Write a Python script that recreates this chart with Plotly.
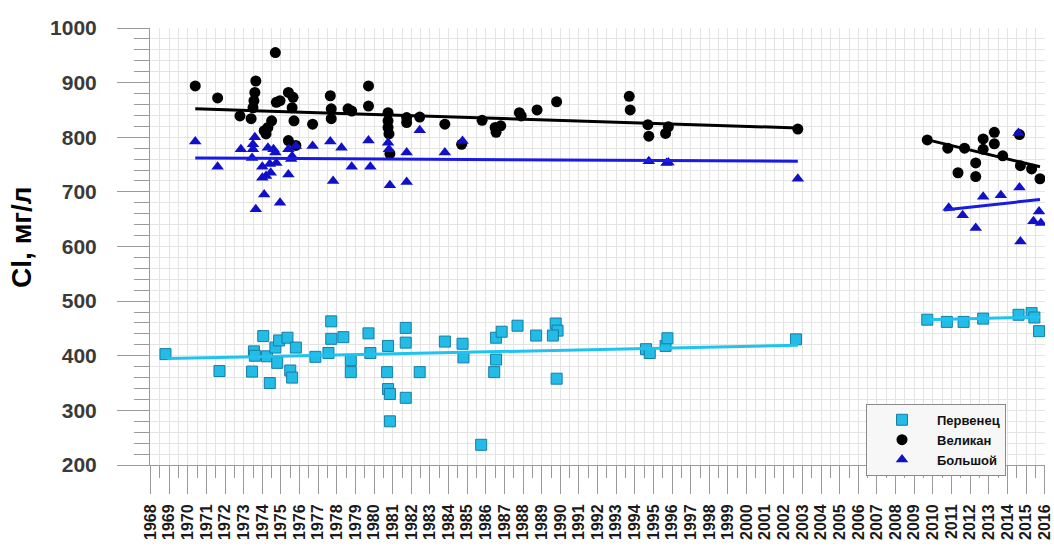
import plotly.graph_objects as go

# Великан — Cl, мг/л
velikan_year = [1970.4, 1971.6, 1972.8, 1973.4, 1973.5, 1973.55, 1973.6, 1973.65,
                1974.1, 1974.2, 1974.3, 1974.5, 1974.7, 1974.75, 1974.95, 1975.4,
                1975.4, 1975.6, 1975.65, 1975.7, 1975.8, 1976.7, 1977.65, 1977.7,
                1977.7, 1978.6, 1978.8, 1979.7, 1979.7, 1980.75, 1980.75, 1980.75,
                1980.8, 1980.85, 1981.75, 1981.75, 1982.45, 1983.8, 1984.7, 1985.8,
                1986.5, 1986.55, 1986.8, 1987.8, 1987.9, 1988.75, 1989.8, 1993.7,
                1993.75, 1994.7, 1994.75, 1995.65, 1995.8, 2002.75,
                2009.7, 2010.8, 2011.35, 2011.7, 2012.3, 2012.3, 2012.7, 2012.7,
                2013.3, 2013.3, 2013.75, 2014.65, 2014.7, 2015.3, 2015.75]
velikan_cl = [894, 872, 839, 834, 854, 867, 882, 903,
              812, 806, 818, 830, 955, 864, 867, 882,
              794, 854, 873, 830, 785, 824, 876, 852,
              834, 852, 848, 894, 857, 845, 830, 818,
              806, 770, 836, 827, 837, 824, 787, 831,
              818, 809, 821, 845, 839, 850, 865, 875,
              850, 823, 802, 807, 819, 815,
              795, 780, 735, 780, 753, 728, 797, 778,
              809, 788, 766, 805, 748, 742, 724]

# Большой — Cl, мг/л
bolshoy_year = [1970.4, 1971.6, 1972.85, 1973.6, 1973.5, 1973.5, 1973.45, 1973.65,
                1974.0, 1974.1, 1974.0, 1974.2, 1974.3, 1974.4, 1974.45, 1974.6,
                1974.7, 1974.75, 1974.95, 1975.4, 1975.4, 1975.55, 1975.6, 1975.8,
                1976.7, 1977.65, 1977.8, 1978.25, 1978.8, 1979.7, 1979.8, 1980.75,
                1980.8, 1980.85, 1981.75, 1981.75, 1982.45, 1983.8, 1984.75,
                1994.75, 1995.7, 1995.8, 2002.75,
                2010.85, 2011.6, 2012.3, 2012.7, 2013.65, 2014.65, 2014.7, 2014.6,
                2015.4, 2015.7, 2015.8]
bolshoy_cl = [792, 746, 778, 800, 787, 778, 762, 668,
              746, 695, 726, 729, 781, 751, 735, 778,
              772, 753, 680, 778, 732, 760, 765, 784,
              784, 792, 720, 781, 746, 794, 746, 790,
              778, 712, 772, 718, 813, 772, 793,
              756, 753, 754, 724,
              671, 657, 634, 691, 694, 708, 609, 808,
              646, 664, 643]

# Первенец — Cl, мг/л
pervenets_year = [1968.8, 1971.7, 1973.45, 1973.55, 1973.6, 1974.05, 1974.25, 1974.4,
                  1974.7, 1974.8, 1974.9, 1975.35, 1975.5, 1975.6, 1975.8, 1976.85,
                  1977.55, 1977.7, 1977.7, 1978.35, 1978.75, 1978.75, 1979.7, 1979.8,
                  1980.75, 1980.7, 1980.75, 1980.85, 1980.85, 1981.7, 1981.7, 1981.7,
                  1982.45, 1983.8, 1984.75, 1984.8, 1985.75, 1986.45, 1986.55, 1986.85,
                  1986.55, 1987.7, 1988.7, 1989.75, 1989.85, 1989.6, 1989.8, 1994.6,
                  1994.8, 1995.65, 1995.75, 2002.65,
                  2009.7, 2010.75, 2011.65, 2012.7, 2014.6, 2015.3, 2015.45, 2015.7]
pervenets_cl = [403, 372, 371, 408, 400, 436, 399, 350,
                415, 387, 428, 433, 373, 360, 415, 398,
                405, 463, 431, 434, 392, 370, 441, 405,
                418, 370, 339, 330, 280, 451, 424, 323,
                370, 426, 422, 397, 237, 370, 433, 444,
                393, 455, 437, 459, 446, 437, 358, 412,
                405, 418, 432, 430,
                466, 462, 462, 468, 475, 478, 470, 445]

# Linear trends, two periods per deposit (start/end year, value)
trend_v1_year, trend_v1_cl = [1970.4, 2002.75], [852, 817]
trend_v2_year, trend_v2_cl = [2009.5, 2015.75], [797, 746]
trend_b1_year, trend_b1_cl = [1970.4, 2002.75], [762, 756]
trend_b2_year, trend_b2_cl = [2010.6, 2015.75], [667, 686]
trend_p1_year, trend_p1_cl = [1968.9, 2002.75], [395, 419]
trend_p2_year, trend_p2_cl = [2009.7, 2015.75], [466, 471]

year_ticks = list(range(1968, 2017))

BLACK = "#000000"
BLUE = "#1010c8"
BLUE_LINE = "#1a1ae6"
CYAN = "#22bce6"
CYAN_EDGE = "#157ea6"
CYAN_LINE = "#1fc3f0"

FONT = "Liberation Sans, Arial, sans-serif"

fig = go.Figure()

fig.add_trace(go.Scatter(
    x=pervenets_year, y=pervenets_cl, mode="markers", name="Первенец",
    marker=dict(symbol="square", size=11, color=CYAN,
                line=dict(color=CYAN_EDGE, width=1)),
))
fig.add_trace(go.Scatter(
    x=velikan_year, y=velikan_cl, mode="markers", name="Великан",
    marker=dict(symbol="circle", size=11, color=BLACK),
))
fig.add_trace(go.Scatter(
    x=bolshoy_year, y=bolshoy_cl, mode="markers", name="Большой",
    marker=dict(symbol="triangle-up", size=11, color=BLUE),
))

for xs, ys, col in [
    (trend_p1_year, trend_p1_cl, CYAN_LINE),
    (trend_p2_year, trend_p2_cl, CYAN_LINE),
    (trend_v1_year, trend_v1_cl, BLACK),
    (trend_v2_year, trend_v2_cl, BLACK),
    (trend_b1_year, trend_b1_cl, BLUE_LINE),
    (trend_b2_year, trend_b2_cl, BLUE_LINE),
]:
    fig.add_trace(go.Scatter(x=xs, y=ys, mode="lines", showlegend=False,
                             line=dict(color=col, width=3), hoverinfo="skip"))

GRID = "#e4e4e4"
AXIS = "#9a9a9a"

fig.update_xaxes(
    range=[1967.97, 2016.02],
    automargin=False,
    tickmode="array", tickvals=year_ticks, ticktext=[str(y) for y in year_ticks],
    tickangle=-90,
    tickfont=dict(family=FONT, size=16, color="#1a1a1a", weight="bold"),
    ticklabeloverflow="allow",
    ticks="outside", ticklen=28, tickcolor=AXIS, tickwidth=1,
    ticklabelstandoff=4,
    showgrid=True, gridcolor=GRID, gridwidth=1,
    minor=dict(dtick=0.5, tick0=1968, ticks="outside", ticklen=12,
               tickcolor=AXIS, showgrid=True, gridcolor=GRID),
    showline=True, linecolor=AXIS, linewidth=1,
    zeroline=False,
)
fig.update_yaxes(
    range=[200, 1000], dtick=100, tick0=200,
    automargin=False,
    tickfont=dict(family=FONT, size=21, color="#3a3a3a", weight="bold"),
    ticks="outside", ticklen=32, tickcolor=AXIS, tickwidth=1,
    ticklabelstandoff=16,
    showgrid=True, gridcolor=GRID, gridwidth=1,
    minor=dict(dtick=20, ticks="outside", ticklen=15,
               tickcolor=AXIS, showgrid=True, gridcolor=GRID),
    showline=True, linecolor=AXIS, linewidth=1,
    zeroline=False,
)

fig.add_annotation(
    text="Cl, мг/л", textangle=-90, showarrow=False,
    xref="paper", yref="paper", x=-0.143, y=0.522,
    xanchor="center", yanchor="middle",
    font=dict(family=FONT, size=28, color="#000000", weight="bold"),
)

fig.update_layout(
    width=1054, height=553,
    margin=dict(l=150, r=9, t=28, b=88, autoexpand=False),
    paper_bgcolor="white", plot_bgcolor="white",
    showlegend=True,
    legend=dict(
        x=0.8, y=0.14, xanchor="left", yanchor="top",
        bgcolor="#f7f7f7", bordercolor="#8a8a8a", borderwidth=1,
        font=dict(family=FONT, size=13, color="#111111", weight="bold"),
        itemwidth=60, tracegroupgap=0,
    ),
)

fig.write_html("out.html")
